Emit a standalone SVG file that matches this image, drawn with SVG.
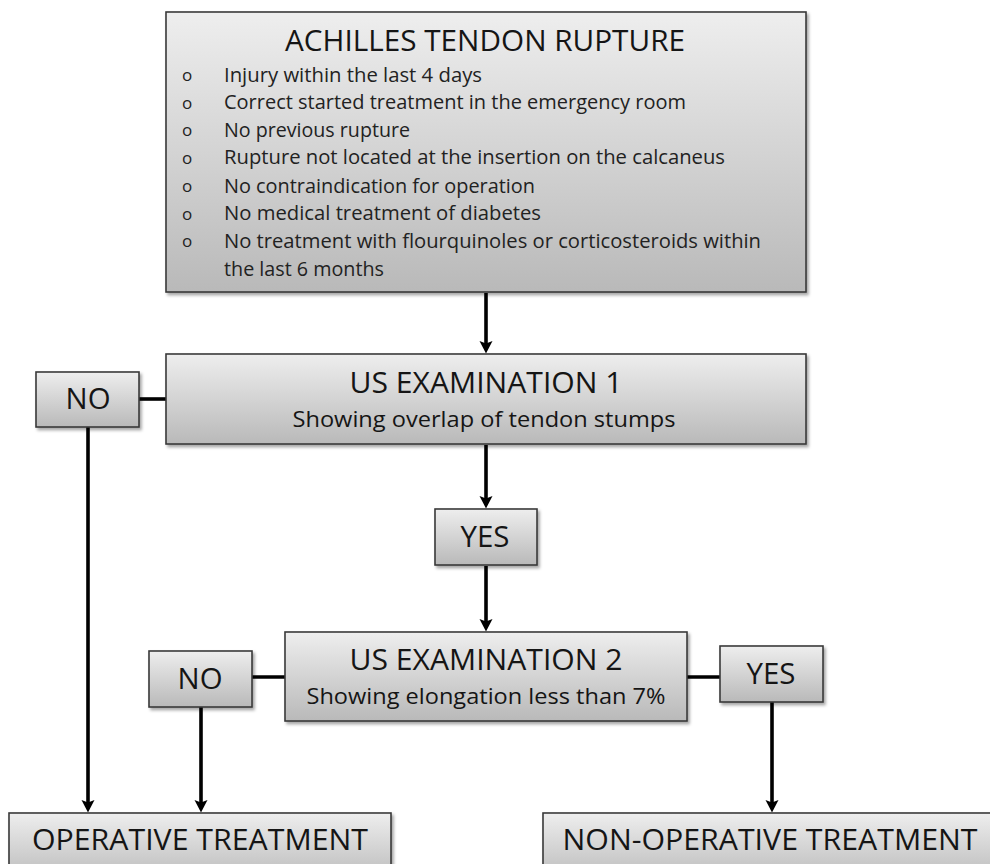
<svg xmlns="http://www.w3.org/2000/svg" width="990" height="864" viewBox="0 0 990 864">
<defs>
<linearGradient id="g" x1="0" y1="0" x2="0" y2="1">
<stop offset="0" stop-color="#eeeeee"/>
<stop offset="1" stop-color="#b9b9b9"/>
</linearGradient>
<filter id="sh" x="-5%" y="-5%" width="115%" height="120%">
<feDropShadow dx="2" dy="2.5" stdDeviation="1.8" flood-color="#000" flood-opacity="0.35"/>
</filter>
<marker id="ah" viewBox="0 0 13 14" refX="6" refY="7" markerWidth="13" markerHeight="14" markerUnits="userSpaceOnUse" orient="auto">
<path d="M0,0.5 L12.5,7 L0,13.5 L2.5,7 z" fill="#000"/>
</marker>
<style>
.box{fill:url(#g);stroke:#3a3a3a;stroke-width:1.6;filter:url(#sh)}
.t{font-family:"Open Sans","Noto Sans","Liberation Sans",sans-serif;fill:#151515}
.h{font-size:29px;text-anchor:middle}
.s{font-size:22px;text-anchor:middle}
.b{font-size:19.5px;fill:#222}
.o{font-size:17px;fill:#222;text-anchor:middle}
.ln{stroke:#000;stroke-width:3.6;fill:none}
.ar{stroke:#000;stroke-width:3.6;fill:none;marker-end:url(#ah)}
</style>
</defs>

<g id="connectors">
<line class="ar" x1="486" y1="293" x2="486" y2="347"/>
<line class="ar" x1="486" y1="445" x2="486" y2="502"/>
<line class="ar" x1="486" y1="566" x2="486" y2="625"/>
<line class="ln" x1="139" y1="399" x2="166" y2="399"/>
<line class="ar" x1="88" y1="427" x2="88" y2="806"/>
<line class="ln" x1="252" y1="677" x2="285" y2="677"/>
<line class="ar" x1="201" y1="707" x2="201" y2="806"/>
<line class="ln" x1="687" y1="677" x2="720" y2="677"/>
<line class="ar" x1="772" y1="702" x2="772" y2="806"/>
</g>

<g id="rupture">
<rect class="box" x="166" y="12" width="640" height="280"/>
<text class="t h" x="485" y="51" textLength="400" lengthAdjust="spacingAndGlyphs">ACHILLES TENDON RUPTURE</text>
<text class="t o" x="187" y="81">o</text>
<text class="t o" x="187" y="109">o</text>
<text class="t o" x="187" y="136">o</text>
<text class="t o" x="187" y="164">o</text>
<text class="t o" x="187" y="192">o</text>
<text class="t o" x="187" y="220">o</text>
<text class="t o" x="187" y="247">o</text>
<text class="t b" x="224" y="81.5" textLength="258" lengthAdjust="spacingAndGlyphs">Injury within the last 4 days</text>
<text class="t b" x="224" y="109" textLength="462" lengthAdjust="spacingAndGlyphs">Correct started treatment in the emergency room</text>
<text class="t b" x="224" y="136.5" textLength="186" lengthAdjust="spacingAndGlyphs">No previous rupture</text>
<text class="t b" x="224" y="164" textLength="501" lengthAdjust="spacingAndGlyphs">Rupture not located at the insertion on the calcaneus</text>
<text class="t b" x="224" y="192.5" textLength="311" lengthAdjust="spacingAndGlyphs">No contraindication for operation</text>
<text class="t b" x="224" y="220" textLength="317" lengthAdjust="spacingAndGlyphs">No medical treatment of diabetes</text>
<text class="t b" x="224" y="248" textLength="537" lengthAdjust="spacingAndGlyphs">No treatment with flourquinoles or corticosteroids within</text>
<text class="t b" x="224" y="275.5" textLength="160" lengthAdjust="spacingAndGlyphs">the last 6 months</text>
</g>

<g id="us1">
<rect class="box" x="166" y="354" width="640" height="90"/>
<text class="t h" x="486" y="393" textLength="273" lengthAdjust="spacingAndGlyphs">US EXAMINATION 1</text>
<text class="t s" x="484" y="427" textLength="383" lengthAdjust="spacingAndGlyphs">Showing overlap of tendon stumps</text>
</g>

<g id="no1">
<rect class="box" x="36" y="372" width="103" height="55"/>
<text class="t h" x="88" y="409" textLength="45" lengthAdjust="spacingAndGlyphs">NO</text>
</g>

<g id="yes1">
<rect class="box" x="435" y="509" width="102" height="56"/>
<text class="t h" x="485" y="547" textLength="49" lengthAdjust="spacingAndGlyphs">YES</text>
</g>

<g id="us2">
<rect class="box" x="285" y="632" width="402" height="89"/>
<text class="t h" x="486" y="670" textLength="273" lengthAdjust="spacingAndGlyphs">US EXAMINATION 2</text>
<text class="t s" x="486" y="704" textLength="359" lengthAdjust="spacingAndGlyphs">Showing elongation less than 7%</text>
</g>

<g id="no2">
<rect class="box" x="149" y="651" width="103" height="56"/>
<text class="t h" x="200" y="689" textLength="45" lengthAdjust="spacingAndGlyphs">NO</text>
</g>

<g id="yes2">
<rect class="box" x="720" y="646" width="103" height="56"/>
<text class="t h" x="771" y="684" textLength="49" lengthAdjust="spacingAndGlyphs">YES</text>
</g>

<g id="operative">
<rect class="box" x="9" y="813" width="382" height="70"/>
<text class="t h" x="200" y="850" textLength="336" lengthAdjust="spacingAndGlyphs">OPERATIVE TREATMENT</text>
</g>

<g id="nonoperative">
<rect class="box" x="543" y="813" width="460" height="70"/>
<text class="t h" x="770" y="850" textLength="415" lengthAdjust="spacingAndGlyphs">NON-OPERATIVE TREATMENT</text>
</g>
</svg>
